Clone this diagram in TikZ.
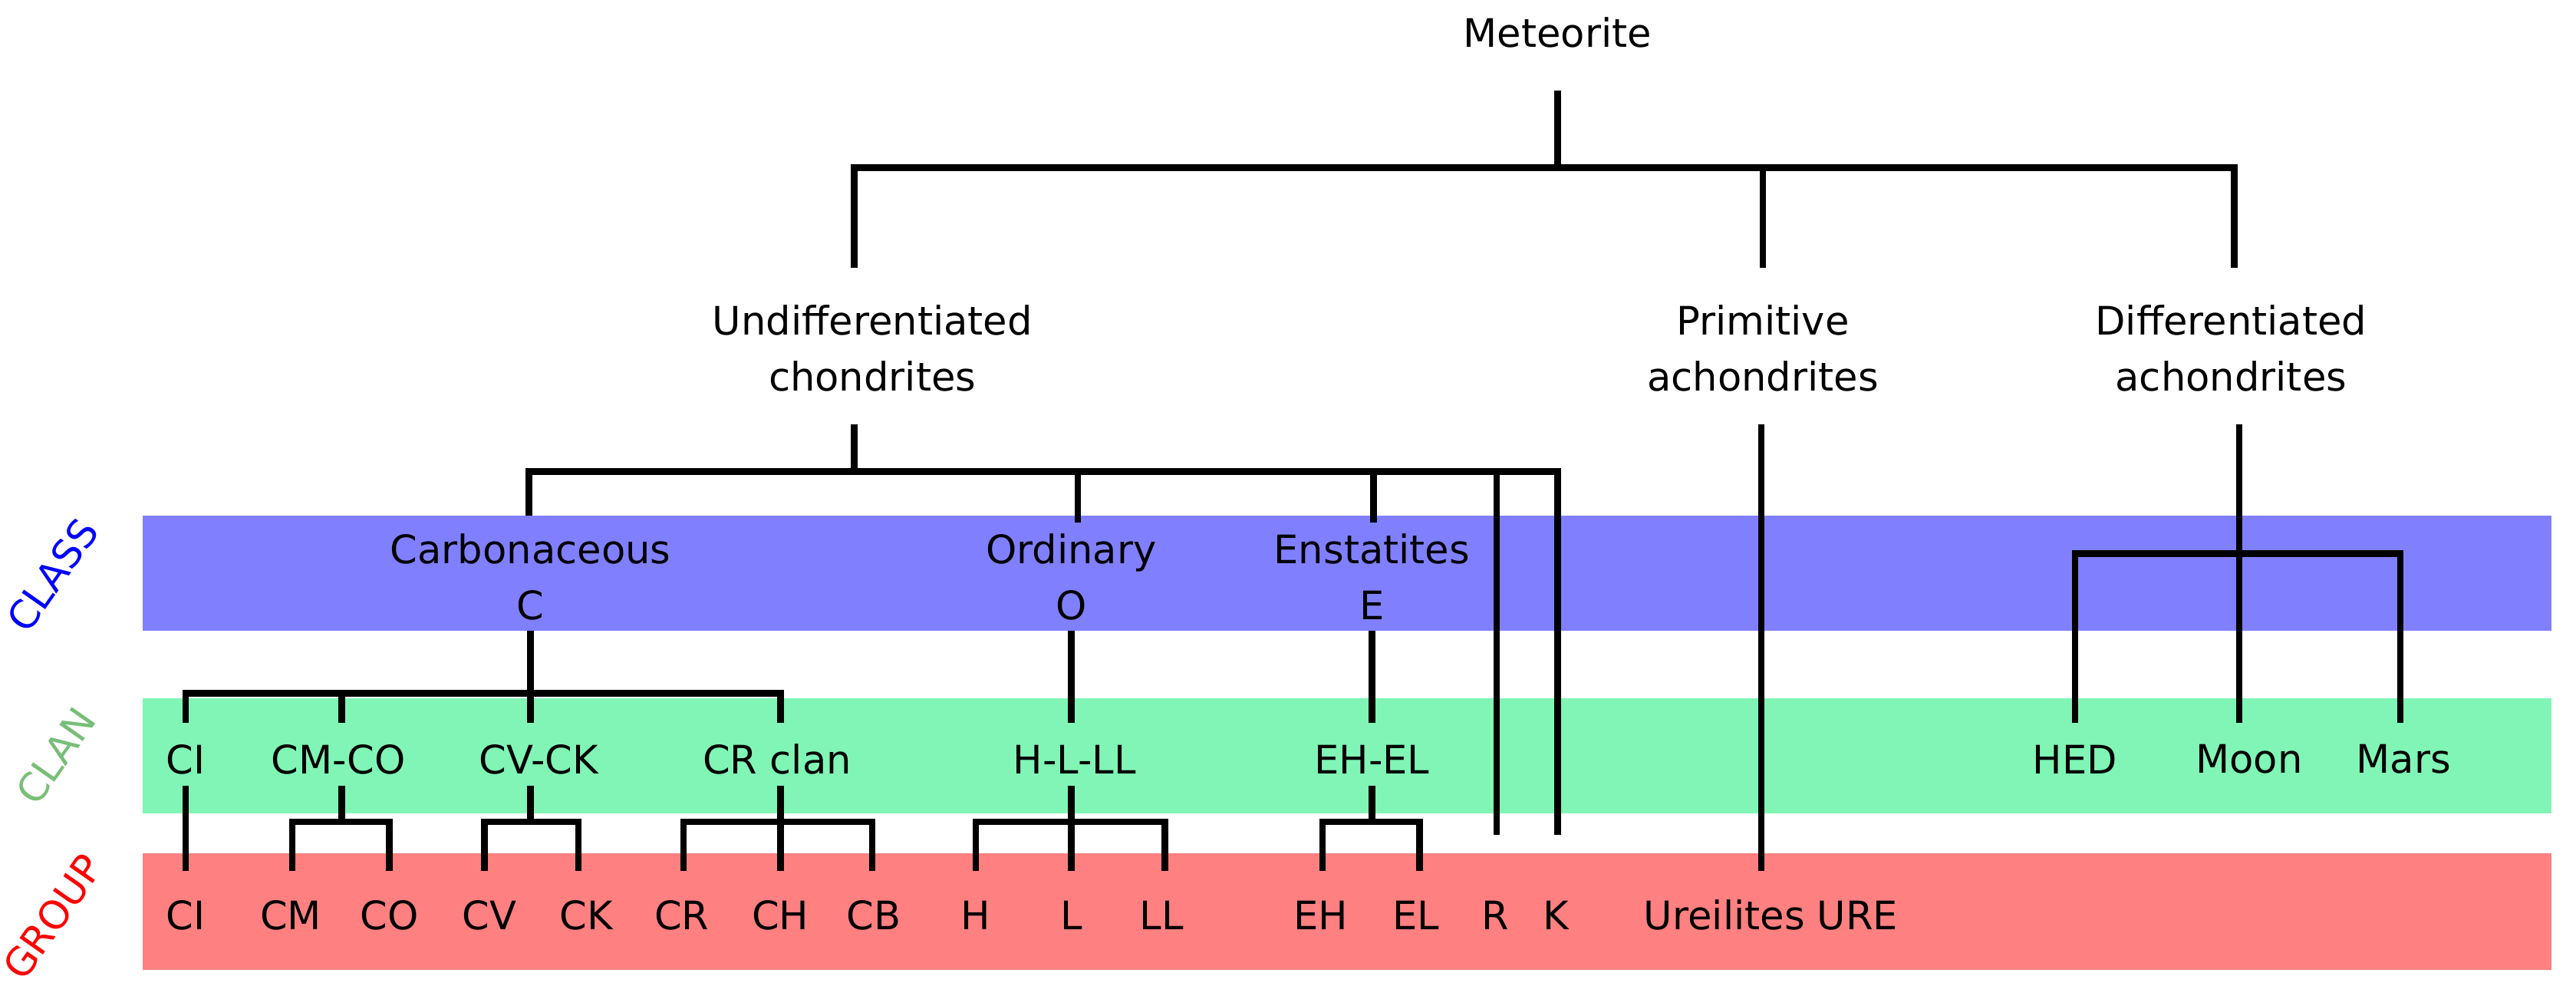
\documentclass[tikz,border=0pt]{standalone}
\usepackage{fontspec}
\setmainfont{DejaVu Sans}
\begin{document}
\begin{tikzpicture}[x=0.02cm,y=-0.02cm,
  t/.style={font=\fontsize{13.6}{19.3}\selectfont,align=center,inner sep=0pt},
  e/.style={line width=0.08cm}]
\useasboundingbox (0,0) rectangle (1568,606);
\fill[fill={rgb,255:red,128;green,128;blue,255}] (87,314) rectangle (1553,384);
\fill[fill={rgb,255:red,128;green,245;blue,181}] (87,425) rectangle (1553,495);
\fill[fill={rgb,255:red,255;green,128;blue,128}] (87,519) rectangle (1553,590);
\node[t,rotate=55,text=blue] (lclass) at (32,350) {CLASS};
\node[t,rotate=55,text={rgb,255:red,120;green,190;blue,120}] (lclan) at (34,460) {CLAN};
\node[t,rotate=55,text=red] (lgroup) at (32,558) {GROUP};
\node[t] (met) at (948,20) {Meteorite};
\node[t] (und) at (531,212) {Undifferentiated\\chondrites};
\node[t] (pri) at (1073,212) {Primitive\\achondrites};
\node[t] (dif) at (1358,212) {Differentiated\\achondrites};
\node[t] (carb) at (323,351) {Carbonaceous\\C};
\node[t] (ord) at (652,351) {Ordinary\\O};
\node[t] (ens) at (835,351) {Enstatites\\E};
\foreach \n/\x/\s in {kci/113/CI,kcmco/206/CM-CO,kcvck/328/CV-CK,kcr/473/CR clan,khll/654/H-L-LL,kehel/835/EH-EL,khed/1263/HED,kmoon/1369/Moon,kmars/1463/Mars}
  \node[t] (\n) at (\x,462) {\s};
\foreach \n/\x/\s in {gci/113/CI,gcm/177/CM,gco/237/CO,gcv/298/CV,gck/357/CK,gcr/415/CR,gch/475/CH,gcb/532/CB,gh/594/H,gl/652/L,gll/707/LL,geh/804/EH,gel/862/EL,gr/910/R,gk/947/K,gure/1078/Ureilites URE}
  \node[t] (\n) at (\x,557) {\s};
\draw[e] (948,55)--(948,102) (520,163)--(520,102)--(1360,102)--(1360,163) (1073,102)--(1073,163);
\draw[e] (520,258)--(520,287) (322,314)--(322,287)--(948,287)--(948,508) (656,287)--(656,318) (836,287)--(836,318) (911,287)--(911,508);
\draw[e] (323,384)--(323,422) (113,440)--(113,422)--(475,422)--(475,440) (208,422)--(208,440) (323,422)--(323,440);
\draw[e] (113,478)--(113,530);
\draw[e] (208,478)--(208,500) (178,530)--(178,500)--(237,500)--(237,530);
\draw[e] (323,478)--(323,500) (295,530)--(295,500)--(352,500)--(352,530);
\draw[e] (475,478)--(475,530) (416,530)--(416,500)--(531,500)--(531,530);
\draw[e] (652,384)--(652,440) (652,478)--(652,530) (594,530)--(594,500)--(709,500)--(709,530);
\draw[e] (835,384)--(835,440) (835,478)--(835,500) (805,530)--(805,500)--(864,500)--(864,530);
\draw[e] (1072,258)--(1072,530);
\draw[e] (1363,258)--(1363,440) (1263,440)--(1263,337)--(1461,337)--(1461,440);
\end{tikzpicture}
\end{document}
